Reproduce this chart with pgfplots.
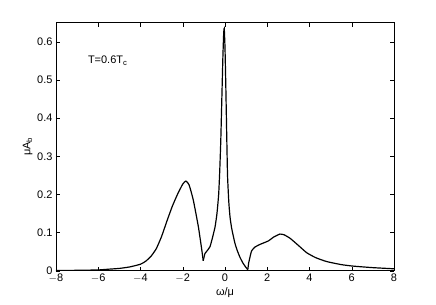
\documentclass[border=0pt]{standalone}
\usepackage{fontspec}
\setmainfont{Liberation Sans}
\usepackage{pgfplots}
\pgfplotsset{compat=1.18}
\begin{document}
\begin{tikzpicture}
\path[use as bounding box] (-56bp,-34.3bp) rectangle (380bp,270.7bp);
\begin{axis}[
  at={(0,0)}, anchor=south west,
  scale only axis, width=338bp, height=248bp,
  xmin=-8, xmax=8, ymin=0, ymax=0.65,
  xtick={-8,-6,...,8},
  ytick={0,0.1,...,0.6},
  yticklabel style={/pgf/number format/fixed,/pgf/number format/precision=1},
  /pgf/number format/assume math mode=true,
  tick align=inside,
  major tick length=4bp,
  tick style={black, line width=0.4pt},
  axis line style={line width=0.5pt},
  ticklabel style={font=\fontsize{11}{13}\selectfont},
  xticklabels={$-$8,$-$6,$-$4,$-$2,0,2,4,6,8},
  xticklabel style={yshift=0bp},
  xlabel={ω/μ}, ylabel={μA$_{\mathrm{b}}$},
  label style={font=\fontsize{11}{13}\selectfont},
  xlabel style={yshift=2bp},
  ylabel style={yshift=-2bp},
]
\addplot[black, line width=1.2pt, smooth, tension=0.3] coordinates {
(-8,0.0005) (-7,0.001) (-6,0.002) (-5.5,0.004) (-5,0.006) (-4.5,0.01) (-4,0.017)
(-3.75,0.025) (-3.5,0.038) (-3.25,0.058) (-3,0.09) (-2.75,0.13) (-2.5,0.168)
(-2.25,0.2) (-2,0.227) (-1.85,0.235) (-1.7,0.225) (-1.5,0.185) (-1.26,0.115)
(-1.1,0.055) (-1.03,0.026)
};
\addplot[black, line width=1.2pt, smooth, tension=0.3] coordinates {
(-1.03,0.026) (-0.95,0.045) (-0.85,0.052) (-0.71,0.063) (-0.6,0.085) (-0.47,0.115)
(-0.38,0.15) (-0.30,0.20) (-0.25,0.26) (-0.2,0.34) (-0.15,0.45) (-0.1,0.56)
(-0.06,0.625) (-0.035,0.635) (0,0.585) (0.04,0.48) (0.08,0.36) (0.12,0.25) (0.18,0.18)
(0.24,0.14) (0.32,0.11) (0.47,0.072) (0.6,0.05) (0.71,0.035) (0.85,0.02) (1.0,0.008)
(1.08,0.003)
};
\addplot[black, line width=1.2pt, smooth, tension=0.3] coordinates {
(1.08,0.003) (1.12,0.02) (1.18,0.035) (1.26,0.052) (1.42,0.062) (1.66,0.069)
(2.05,0.078) (2.3,0.088) (2.6,0.096) (2.8,0.094) (3.08,0.085) (3.5,0.065)
(3.87,0.047) (4.3,0.034) (4.81,0.024) (5.5,0.016) (6.07,0.012) (7,0.008) (8,0.005)
};
\node[anchor=west, font=\fontsize{11}{13}\selectfont] at (axis cs:-6.65,0.55) {T=0.6T$_{\mathrm{c}}$};
\end{axis}
\end{tikzpicture}
\end{document}
